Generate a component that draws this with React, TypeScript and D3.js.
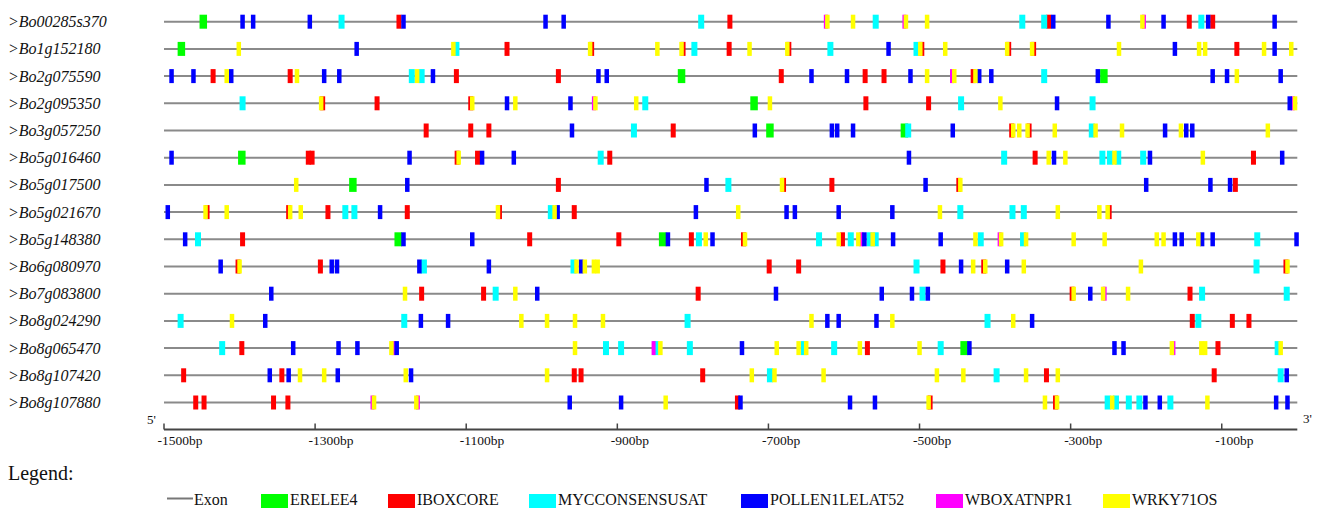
import React from 'react';
import * as d3 from 'd3';

// motif codes: E ERELEE4, I IBOXCORE, M MYCCONSENSUSAT, P POLLEN1LELAT52, W WBOXATNPR1, R WRKY71OS
type Site = [number, string];

const genes = [
  '>Bo00285s370', '>Bo1g152180', '>Bo2g075590', '>Bo2g095350', '>Bo3g057250',
  '>Bo5g016460', '>Bo5g017500', '>Bo5g021670', '>Bo5g148380', '>Bo6g080970',
  '>Bo7g083800', '>Bo8g024290', '>Bo8g065470', '>Bo8g107420', '>Bo8g107880',
];

const bo00285s370: Site[] = [[-1448,'E'],[-1396,'P'],[-1382,'P'],[-1307,'P'],[-1265,'M'],[-1189,'I'],[-1183,'P'],[-995,'P'],[-971,'P'],[-789,'M'],[-751,'I'],[-624,'W'],[-622,'R'],[-588,'R'],[-558,'M'],[-520,'W'],[-518,'R'],[-490,'R'],[-364,'M'],[-335,'M'],[-329,'I'],[-323,'P'],[-250,'P'],[-205,'R'],[-203,'W'],[-177,'P'],[-143,'I'],[-127,'M'],[-118,'P'],[-112,'I'],[-30,'P']];
const bo1g152180: Site[] = [[-1477,'E'],[-1401,'R'],[-1245,'P'],[-1117,'R'],[-1113,'M'],[-1046,'I'],[-936,'R'],[-934,'I'],[-847,'R'],[-815,'R'],[-813,'I'],[-798,'M'],[-752,'I'],[-725,'R'],[-675,'R'],[-673,'I'],[-618,'M'],[-541,'P'],[-504,'M'],[-499,'R'],[-497,'I'],[-466,'R'],[-384,'R'],[-382,'I'],[-351,'R'],[-349,'I'],[-236,'R'],[-162,'P'],[-130,'R'],[-122,'R'],[-80,'I'],[-44,'R'],[-30,'P'],[-8,'R']];
const bo2g075590: Site[] = [[-1490,'P'],[-1461,'P'],[-1435,'I'],[-1417,'R'],[-1411,'P'],[-1333,'I'],[-1324,'R'],[-1288,'P'],[-1268,'P'],[-1172,'M'],[-1165,'R'],[-1159,'M'],[-1144,'P'],[-1113,'I'],[-978,'I'],[-925,'P'],[-914,'P'],[-815,'E'],[-683,'I'],[-643,'P'],[-596,'P'],[-572,'I'],[-547,'I'],[-512,'P'],[-490,'R'],[-457,'W'],[-454,'R'],[-429,'I'],[-426,'R'],[-421,'P'],[-405,'P'],[-335,'M'],[-264,'P'],[-256,'E'],[-112,'P'],[-93,'P'],[-80,'R'],[-22,'P']];
const bo2g095350: Site[] = [[-1396,'M'],[-1292,'R'],[-1290,'I'],[-1218,'I'],[-1094,'I'],[-1092,'R'],[-1046,'P'],[-1035,'R'],[-962,'P'],[-931,'W'],[-929,'R'],[-875,'R'],[-863,'M'],[-719,'E'],[-698,'R'],[-571,'I'],[-488,'I'],[-445,'M'],[-393,'R'],[-318,'P'],[-271,'M'],[-10,'P'],[-6,'W'],[-3,'R']];
const bo3g057250: Site[] = [[-1153,'I'],[-1094,'I'],[-1070,'I'],[-960,'P'],[-878,'M'],[-826,'I'],[-718,'P'],[-698,'E'],[-616,'P'],[-609,'P'],[-588,'P'],[-520,'E'],[-515,'M'],[-456,'P'],[-378,'I'],[-376,'R'],[-368,'R'],[-357,'R'],[-355,'I'],[-321,'R'],[-272,'M'],[-267,'R'],[-232,'R'],[-175,'P'],[-154,'R'],[-147,'P'],[-139,'P'],[-39,'R']];
const bo5g016460: Site[] = [[-1490,'P'],[-1397,'E'],[-1309,'I'],[-1304,'I'],[-1175,'P'],[-1112,'I'],[-1110,'R'],[-1085,'I'],[-1079,'P'],[-1037,'P'],[-922,'M'],[-910,'I'],[-514,'P'],[-388,'M'],[-347,'I'],[-329,'R'],[-322,'P'],[-307,'R'],[-258,'M'],[-248,'M'],[-242,'R'],[-237,'M'],[-204,'M'],[-195,'P'],[-125,'R'],[-58,'I'],[-20,'P']];
const bo5g017500: Site[] = [[-1325,'R'],[-1250,'E'],[-1178,'P'],[-978,'I'],[-782,'P'],[-753,'M'],[-682,'R'],[-680,'I'],[-616,'I'],[-492,'P'],[-448,'I'],[-446,'R'],[-200,'P'],[-115,'P'],[-89,'P'],[-82,'I']];
const bo5g021670: Site[] = [[-1495,'P'],[-1445,'R'],[-1443,'I'],[-1417,'R'],[-1335,'I'],[-1333,'R'],[-1319,'R'],[-1283,'I'],[-1260,'M'],[-1248,'M'],[-1214,'P'],[-1178,'I'],[-1058,'R'],[-1056,'I'],[-988,'M'],[-983,'R'],[-979,'P'],[-957,'I'],[-796,'P'],[-740,'R'],[-676,'P'],[-665,'P'],[-607,'P'],[-536,'P'],[-473,'R'],[-446,'M'],[-377,'M'],[-362,'M'],[-317,'R'],[-262,'R'],[-251,'R'],[-249,'I']];
const bo5g148380: Site[] = [[-1472,'P'],[-1455,'M'],[-1396,'I'],[-1190,'E'],[-1183,'P'],[-1092,'P'],[-1016,'I'],[-898,'I'],[-840,'E'],[-833,'P'],[-802,'I'],[-792,'M'],[-783,'R'],[-774,'P'],[-733,'I'],[-731,'R'],[-633,'M'],[-607,'R'],[-602,'I'],[-591,'M'],[-581,'R'],[-577,'W'],[-573,'P'],[-566,'M'],[-562,'R'],[-558,'M'],[-535,'P'],[-472,'P'],[-426,'R'],[-419,'M'],[-394,'W'],[-392,'R'],[-363,'M'],[-359,'R'],[-296,'R'],[-255,'R'],[-186,'R'],[-177,'R'],[-162,'P'],[-153,'P'],[-131,'R'],[-126,'P'],[-112,'P'],[-53,'M'],[-1,'P']];
const bo6g080970: Site[] = [[-1425,'P'],[-1402,'I'],[-1400,'R'],[-1293,'I'],[-1278,'P'],[-1271,'P'],[-1162,'P'],[-1156,'M'],[-1070,'P'],[-958,'M'],[-954,'R'],[-948,'P'],[-943,'R'],[-931,'R'],[-926,'R'],[-699,'I'],[-660,'I'],[-504,'M'],[-469,'I'],[-445,'P'],[-429,'R'],[-415,'I'],[-413,'R'],[-384,'P'],[-362,'R'],[-207,'R'],[-54,'M'],[-15,'I'],[-13,'R']];
const bo7g083800: Site[] = [[-1358,'P'],[-1181,'R'],[-1159,'I'],[-1077,'I'],[-1061,'M'],[-1035,'R'],[-1006,'P'],[-793,'I'],[-690,'P'],[-550,'P'],[-510,'P'],[-496,'M'],[-489,'P'],[-298,'I'],[-296,'R'],[-274,'P'],[-257,'R'],[-255,'W'],[-224,'R'],[-142,'I'],[-126,'M'],[-14,'M']];
const bo8g024290: Site[] = [[-1478,'M'],[-1410,'R'],[-1366,'P'],[-1182,'M'],[-1160,'P'],[-1124,'P'],[-1027,'R'],[-993,'R'],[-956,'R'],[-919,'R'],[-807,'M'],[-643,'R'],[-622,'P'],[-607,'P'],[-557,'P'],[-536,'R'],[-410,'M'],[-376,'R'],[-351,'P'],[-139,'I'],[-131,'M'],[-86,'I'],[-64,'I']];
const bo8g065470: Site[] = [[-1423,'M'],[-1397,'I'],[-1329,'P'],[-1269,'P'],[-1244,'P'],[-1199,'R'],[-1196,'W'],[-1192,'P'],[-956,'R'],[-915,'M'],[-895,'M'],[-852,'W'],[-849,'M'],[-843,'R'],[-804,'M'],[-735,'P'],[-689,'R'],[-660,'R'],[-653,'M'],[-650,'R'],[-613,'M'],[-579,'R'],[-569,'I'],[-500,'R'],[-472,'M'],[-441,'E'],[-434,'P'],[-242,'P'],[-230,'P'],[-166,'R'],[-164,'W'],[-127,'R'],[-122,'R'],[-105,'I'],[-26,'M'],[-22,'R']];
const bo8g107420: Site[] = [[-1474,'I'],[-1360,'P'],[-1344,'I'],[-1335,'P'],[-1320,'R'],[-1288,'R'],[-1270,'P'],[-1180,'R'],[-1173,'P'],[-993,'R'],[-957,'I'],[-948,'I'],[-787,'I'],[-722,'R'],[-698,'M'],[-692,'R'],[-627,'R'],[-477,'R'],[-442,'R'],[-398,'M'],[-359,'R'],[-332,'I'],[-317,'R'],[-110,'I'],[-22,'M'],[-14,'P']];
const bo8g107880: Site[] = [[-1458,'I'],[-1447,'I'],[-1355,'I'],[-1336,'I'],[-1224,'W'],[-1222,'R'],[-1166,'R'],[-1164,'W'],[-963,'P'],[-895,'P'],[-836,'R'],[-741,'I'],[-737,'P'],[-592,'P'],[-559,'P'],[-488,'R'],[-486,'I'],[-334,'R'],[-320,'I'],[-318,'R'],[-251,'M'],[-245,'R'],[-240,'M'],[-223,'M'],[-209,'M'],[-201,'P'],[-182,'P'],[-168,'M'],[-119,'R'],[-28,'P'],[-13,'P']];

const sites: Site[][] = [
  bo00285s370, bo1g152180, bo2g075590, bo2g095350, bo3g057250,
  bo5g016460, bo5g017500, bo5g021670, bo5g148380, bo6g080970,
  bo7g083800, bo8g024290, bo8g065470, bo8g107420, bo8g107880,
];

const motifCodes = ['E', 'I', 'M', 'W', 'P', 'R']; // draw order
const motifNames: Record<string, string> = {
  E: 'ERELEE4', I: 'IBOXCORE', M: 'MYCCONSENSUSAT', P: 'POLLEN1LELAT52', W: 'WBOXATNPR1', R: 'WRKY71OS',
};
const motifColors: Record<string, string> = {
  E: '#00ff00', I: '#ff0000', M: '#00ffff', P: '#0000ff', W: '#ff00ff', R: '#ffff00',
};
const motifWidth: Record<string, number> = { E: 7.5, I: 5, M: 6, P: 4.5, W: 4, R: 4.5 };
const legendOrder = ['E', 'I', 'M', 'P', 'W', 'R'];
const legendX = [261, 388, 529, 741, 936, 1103];

const tickValues = [-1500, -1300, -1100, -900, -700, -500, -300, -100];

export default function App() {
  const x = d3.scaleLinear().domain([-1500, 0]).range([164, 1297.3]);
  const y = d3.scalePoint<string>().domain(genes).range([21.7, 402.5]);
  const axisY = 429.5;
  const T = (props: any) => <text style={{ fontFamily: "'Liberation Serif'" }} fill="#111" {...props} />;

  return (
    <div style={{ position: 'absolute', left: 0, top: 0, fontFamily: "'Liberation Serif'" }}>
      <svg width={1319} height={508} style={{ display: 'block', background: '#fff' }}>
        <style>{"text { font-family: 'Liberation Serif'; }"}</style>
        {genes.map((g, i) => {
          const yy = y(g)!;
          const list = sites[i].slice().sort((a, b) => motifCodes.indexOf(a[1]) - motifCodes.indexOf(b[1]));
          return (
            <g key={g}>
              <T x={8} y={yy + 5.5} fontSize={16} fontStyle="italic">{g}</T>
              <line x1={x(-1500)} x2={x(0)} y1={yy} y2={yy} stroke="#8a8a8a" strokeWidth={2} />
              {list.map(([bp, c], j) => (
                <rect key={j} x={x(bp) - motifWidth[c] / 2} y={yy - 7} width={motifWidth[c]} height={14}
                  fill={motifColors[c]} />
              ))}
            </g>
          );
        })}

        {/* position axis */}
        <line x1={x(-1500)} x2={x(0)} y1={axisY} y2={axisY} stroke="#444" strokeWidth={2} />
        {tickValues.map(t => (
          <g key={t}>
            <line x1={x(t)} x2={x(t)} y1={axisY} y2={axisY - 6} stroke="#444" strokeWidth={1.5} />
            <T x={x(t) - 6.5} y={axisY + 15} fontSize={13.5}>{`${t}bp`}</T>
          </g>
        ))}
        <T x={147} y={424} fontSize={13}>5'</T>
        <T x={1303} y={423} fontSize={13}>3'</T>

        {/* legend */}
        <T x={8} y={480} fontSize={20}>Legend:</T>
        <line x1={167} x2={193} y1={498.5} y2={498.5} stroke="#777" strokeWidth={2} />
        <T x={194} y={505} fontSize={16}>Exon</T>
        {legendOrder.map((c, i) => (
          <g key={c}>
            <rect x={legendX[i]} y={494} width={27} height={16} fill={motifColors[c]} />
            <T x={legendX[i] + 29} y={505} fontSize={16}>{motifNames[c]}</T>
          </g>
        ))}
      </svg>
    </div>
  );
}
